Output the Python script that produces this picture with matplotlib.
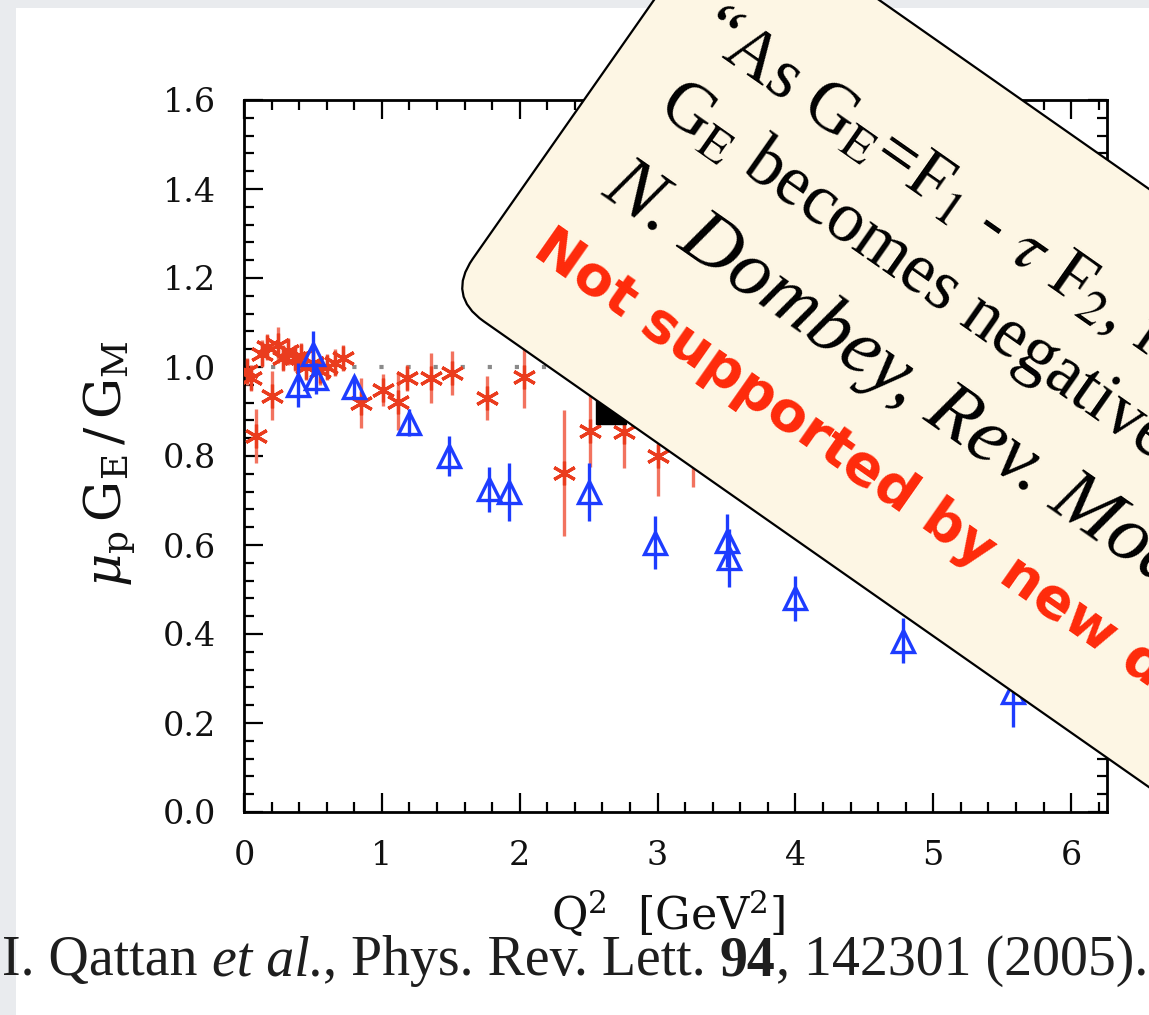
import matplotlib
matplotlib.use("Agg")
import matplotlib.pyplot as plt
import numpy as np
from matplotlib.patches import FancyBboxPatch, Rectangle
from matplotlib.transforms import Affine2D
from matplotlib.ticker import MultipleLocator, FormatStrFormatter

# ---------------- data ----------------
# Polarization transfer (blue open triangles)
blue_q2 = [0.39, 0.50, 0.52, 0.80, 1.20, 1.49, 1.78, 1.92, 2.50, 2.98, 3.50, 3.52, 4.00, 4.78, 5.58]
blue_r = [0.96, 1.03, 0.975, 0.955, 0.875, 0.80, 0.725, 0.72, 0.72, 0.605, 0.61, 0.57, 0.48, 0.385, 0.27]
blue_err = [0.05, 0.05, 0.035, 0.025, 0.03, 0.045, 0.05, 0.065, 0.065, 0.06, 0.06, 0.065, 0.05, 0.05, 0.08]

# Rosenbluth separation (red asterisks)
red_q2 = [0.02, 0.05, 0.09, 0.13, 0.17, 0.20, 0.25, 0.28, 0.32, 0.37, 0.41, 0.45, 0.50, 0.55,
          0.60, 0.66, 0.72, 0.85, 1.01, 1.12, 1.18, 1.36, 1.51, 1.76, 2.03, 2.32, 2.51, 2.76,
          3.00, 3.26]
red_r = [0.99, 0.975, 0.845, 1.03, 1.045, 0.935, 1.05, 1.02, 1.035, 1.02, 1.025, 1.0, 1.01, 0.99,
         1.0, 1.01, 1.02, 0.92, 0.948, 0.922, 0.975, 0.975, 0.986, 0.93, 0.978, 0.762, 0.856, 0.853,
         0.80, 0.82]
red_err = [0.03, 0.03, 0.06, 0.03, 0.03, 0.055, 0.04, 0.03, 0.03, 0.03, 0.03, 0.03, 0.03, 0.03,
           0.03, 0.03, 0.03, 0.056, 0.036, 0.064, 0.03, 0.056, 0.05, 0.05, 0.07, 0.142, 0.08, 0.08,
           0.09, 0.09]

# other point (black square, mostly hidden)
black_q2 = [2.66]
black_r = [0.905]

x_ticks = [0, 1, 2, 3, 4, 5, 6]
y_ticks = [0.0, 0.2, 0.4, 0.6, 0.8, 1.0, 1.2, 1.4, 1.6]

line1 = "\u201cAs G$_\\mathrm{E}$=F$_1$ - $\\tau$ F$_2$, for large Q$^2$"
line2 = "G$_\\mathrm{E}$ becomes negative at large Q$^2$\u201d"
line3 = "N. Dombey, Rev. Mod. Phys. 41, 236 (1969)"
line4 = "Not supported by new data"
caption_parts = [("I. Qattan", "normal", "normal"), (" ", "normal", "normal"),
                 ("et al.", "italic", "normal"), (", Phys. Rev. Lett.", "normal", "normal"),
                 (" ", "normal", "normal"), ("94", "normal", "bold"),
                 (", 142301 (2005).", "normal", "normal")]

# ---------------- figure ----------------
W, H = 1149, 1015
fig = plt.figure(figsize=(W / 100, H / 100), dpi=100)
fig.patch.set_facecolor('#e9ebee')
fig.add_artist(Rectangle((16 / W, 0), 1 - 16 / W, (H - 8) / H, transform=fig.transFigure,
                         facecolor='white', edgecolor='none', zorder=-5))

ax = fig.add_axes([244 / W, (H - 812) / H, 863 / W, 712 / H])
ax.set_xlim(0, 6.26)
ax.set_ylim(0, 1.6)

ax.axhline(1.0, color='#8a8a8a', lw=3, ls=(0, (1, 5.5)), zorder=1)

ax.errorbar(red_q2, red_r, yerr=red_err, fmt='none', ecolor='#f2735f', elinewidth=2.4, zorder=2)
ax.plot(red_q2, red_r, ls='none', marker=(6, 2, 0), ms=17, mew=2.3, color='#ea3c1e', zorder=3)

ax.errorbar(blue_q2, blue_r, yerr=blue_err, fmt='^', mfc='none', mec='#1d3cff', ms=16, mew=2.4,
            ecolor='#1d3cff', elinewidth=2.4, zorder=4)
ax.plot(black_q2, black_r, 's', color='black', ms=22, zorder=4)

ax.set_xticks(x_ticks)
ax.set_yticks(y_ticks)
ax.xaxis.set_minor_locator(MultipleLocator(0.2))
ax.yaxis.set_minor_locator(MultipleLocator(0.04))
ax.yaxis.set_major_formatter(FormatStrFormatter('%.1f'))
ax.tick_params(which='both', direction='in', top=True, right=True, width=1.6, colors='black')
ax.tick_params(which='major', length=14, labelsize=24, pad=20)
ax.tick_params(which='minor', length=7)
for lab in ax.get_xticklabels() + ax.get_yticklabels():
    lab.set_family('DejaVu Serif')
    lab.set_color('#111111')
for sp in ax.spines.values():
    sp.set_linewidth(2.0)

fig.text(668 / W, (H - 914) / H, "Q$^2$  [GeV$^2$]", ha='center', va='center', fontsize=32,
         family='DejaVu Serif', math_fontfamily='dejavuserif', color='#111111')
fig.text(110 / W, (H - 464) / H, r"$\mu_{\rm p}\,{\rm G}_{\rm E}\,/\,{\rm G}_{\rm M}$", rotation=90,
         ha='center', va='center', fontsize=37, math_fontfamily='dejavuserif', color='#111111')

renderer = fig.canvas.get_renderer()


def width_px(s, **kw):
    t = fig.text(0, 0, s, **kw)
    w = t.get_window_extent(renderer).width
    t.remove()
    return w


def fit(s, target, **kw):
    w = width_px(s, fontsize=20, **kw)
    return 20 * target / w


# caption, drawn piece by piece
cap_family = 'Liberation Serif'


def piece_width(s, fs, style, weight):
    kw = dict(fontsize=fs, family=cap_family, style=style, weight=weight)
    if s.strip() == "":
        return width_px("a" + s + "a", **kw) - width_px("aa", **kw)
    return width_px(s, **kw)


total20 = sum(piece_width(s, 20, st, wt) for s, st, wt in caption_parts)
cap_fs = 20 * 1146 / total20
xpos = 2.0
for s, st, wt in caption_parts:
    wpx = piece_width(s, cap_fs, st, wt)
    if s.strip() != "":
        fig.text(xpos / W, 40 / H, s, ha='left', va='baseline', fontsize=cap_fs, family=cap_family,
                 style=st, weight=wt, color='#1e1e1e')
    xpos += wpx

# ---------------- rotated callout ----------------
ang = 35.0
th = np.deg2rad(ang)
P = np.array([447.0, 719.4])
u = np.array([np.cos(th), -np.sin(th)])
v = np.array([np.sin(th), np.cos(th)])
box_tr = Affine2D().rotate_deg(-ang).translate(*P).scale(1 / 100) + fig.dpi_scale_trans
box = FancyBboxPatch((0, 0), 1300, 490, boxstyle='round,pad=0,rounding_size=45', transform=box_tr,
                     facecolor='#fdf6e4', edgecolor='black', lw=1.6, zorder=5)
fig.add_artist(box)


def place(a, b, s, **kw):
    p = P + a * u + b * v
    fig.text(p[0] / W, p[1] / H, s, rotation=-ang, rotation_mode='anchor', ha='left',
             va='baseline', zorder=6, **kw)


main_kw = dict(family='Liberation Serif', math_fontfamily='stix', color='black')
fs_main = fit("G$_\\mathrm{E}$ becomes negati", 545, **main_kw)
place(55, 352, line1, fontsize=fs_main, **main_kw)
place(65, 270, line2, fontsize=fs_main, **main_kw)

scr_kw = dict(family='Liberation Serif', style='italic', color='black')
fs_scr = fit("N. Dombey, ", 393, **scr_kw)
place(67, 172, line3, fontsize=fs_scr, **scr_kw)

red_kw = dict(family='DejaVu Sans', weight='bold', color='#ff2a0a')
fs_red = fit("Not supported by new", 698, **red_kw)
place(45, 82, line4, fontsize=fs_red, **red_kw)

fig.savefig("out.png", dpi=100)
